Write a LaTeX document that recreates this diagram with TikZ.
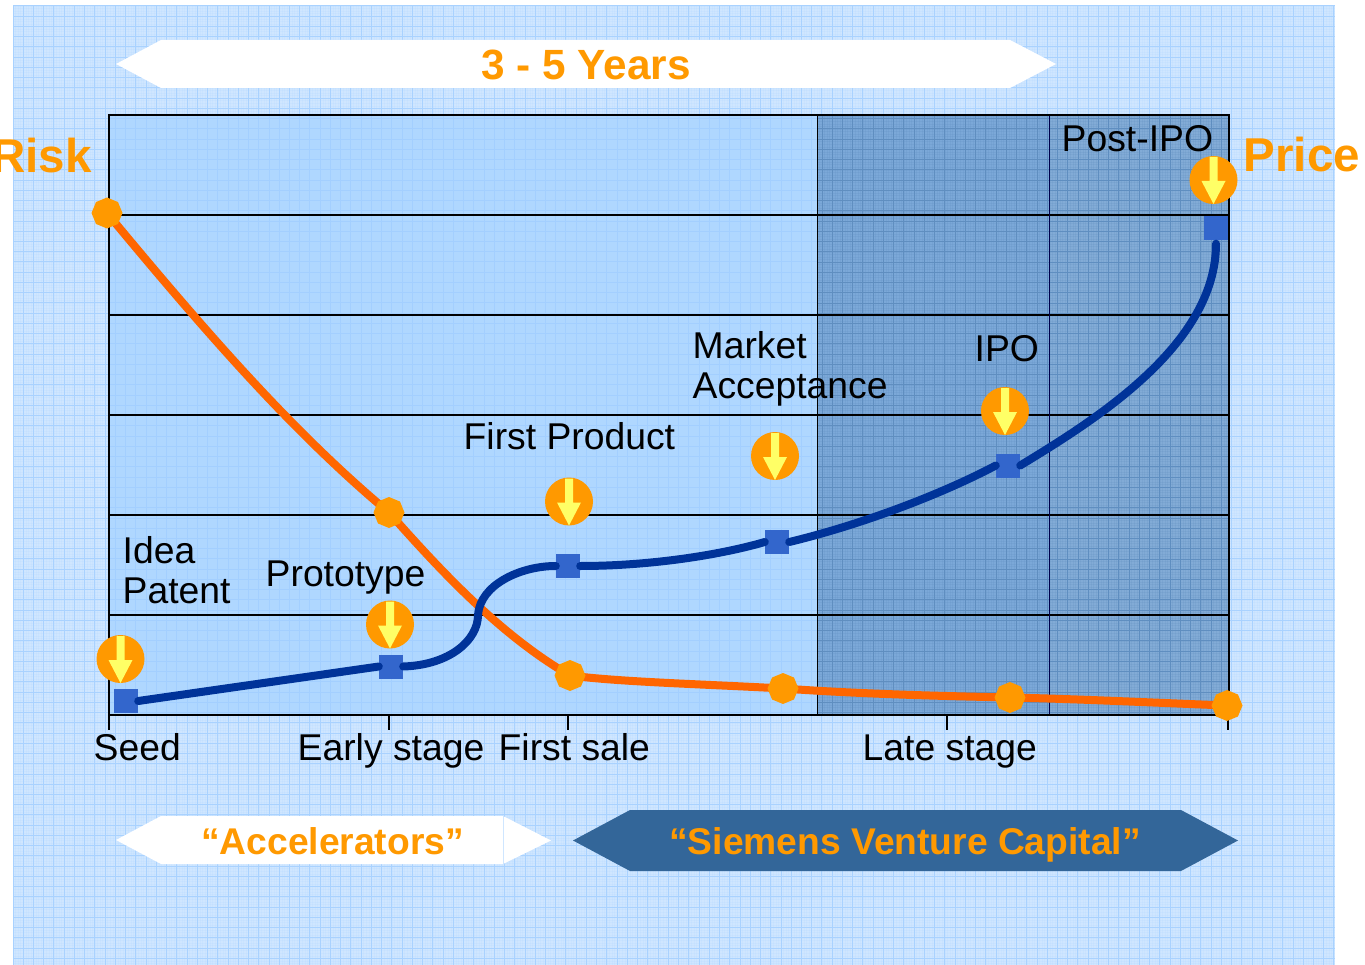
\documentclass[tikz,border=0pt]{standalone}
\usepackage{fontspec}
\setmainfont{Liberation Sans}
\usetikzlibrary{shapes.geometric}
\definecolor{bgc}{HTML}{CFE6FF}
\definecolor{gridc}{HTML}{A9D2FF}
\definecolor{panelc}{HTML}{AFD7FF}
\definecolor{panelgrid}{HTML}{A3CFFF}
\definecolor{darkc}{HTML}{7BA8D8}
\definecolor{darkd}{HTML}{82ABD6}
\definecolor{darkgrid}{HTML}{5F8EC0}
\definecolor{orangeT}{HTML}{FF9900}
\definecolor{orangeL}{HTML}{FF6600}
\definecolor{blueL}{HTML}{003399}
\definecolor{blueS}{HTML}{3366CC}
\definecolor{steel}{HTML}{336699}
\definecolor{yel}{HTML}{FFFF66}
\tikzset{
  x=1pt,y=-1pt,
  lbl/.style={anchor=base west,inner sep=0pt,font=\fontsize{37.3}{37.3}\selectfont,text=black},
  big/.style={anchor=base,inner sep=0pt,font=\fontsize{47.5}{47.5}\selectfont\bfseries,text=orangeT},
  banner/.style={anchor=base,inner sep=0pt,font=\fontsize{37.2}{38}\selectfont\bfseries,text=orangeT},
  octa/.style={regular polygon,regular polygon sides=8,shape border rotate=22.5,fill=orangeT,inner sep=0pt,minimum size=31pt},
  sq/.style={rectangle,fill=blueS,inner sep=0pt,minimum size=24pt},
  orline/.style={draw=orangeL,line width=8pt,line cap=round},
  blline/.style={draw=blueL,line width=8pt,line cap=round},
  hair/.style={draw=black,line width=1.6pt},
  coin/.style={circle,fill=orangeT,inner sep=0pt,minimum size=48pt},
}
\newcommand{\coinat}[3]{%
  \node[coin] (#1) at (#2,#3) {};
  \fill[yel] (#1.center) ++(-4,-23) -- ++(8,0) -- ++(0,24) -- ++(8,0) -- ++(-12,23) -- ++(-12,-23) -- ++(8,0) -- cycle;
}
\begin{document}
\begin{tikzpicture}
\useasboundingbox (0,0) rectangle (1365,965);
% background panel
\fill[bgc] (13,6) rectangle (1335,965);
\begin{scope}
\clip (13,6) rectangle (1335,965);
\foreach \i in {0,...,516} {\draw[gridc,line width=.5pt,opacity=.14] ({13+2.56*\i},6) -- ({13+2.56*\i},965);}
\foreach \i in {0,...,375} {\draw[gridc,line width=.5pt,opacity=.14] (13,{6+2.56*\i}) -- (1335,{6+2.56*\i});}
\foreach \i in {0,...,130} {\draw[gridc,line width=1pt] ({13+10.24*\i},6) -- ({13+10.24*\i},965);}
\foreach \i in {0,...,94} {\draw[gridc,line width=1pt] (13,{6+10.24*\i}) -- (1335,{6+10.24*\i});}
\end{scope}
% chart panel
\fill[panelc] (109,115) rectangle (817,715);
\fill[darkc] (817,115) rectangle (1049,715);
\fill[darkd] (1049,115) rectangle (1229,715);
\begin{scope}
\clip (109,115) rectangle (817,715);
\foreach \i in {9,...,79} {\draw[panelgrid,line width=1pt] ({13+10.24*\i},115) -- ({13+10.24*\i},715);}
\foreach \i in {11,...,69} {\draw[panelgrid,line width=1pt] (109,{6+10.24*\i}) -- (817,{6+10.24*\i});}
\end{scope}
\begin{scope}
\clip (817,115) rectangle (1229,715);
\foreach \i in {78,...,119} {\draw[darkgrid,line width=.9pt] ({13+10.24*\i},115) -- ({13+10.24*\i},715);}
\foreach \i in {11,...,69} {\draw[darkgrid,line width=.9pt] (817,{6+10.24*\i}) -- (1229,{6+10.24*\i});}
\foreach \i in {314,...,475} {\draw[darkgrid,line width=.5pt,opacity=.2] ({13+2.56*\i},115) -- ({13+2.56*\i},715);}
\foreach \i in {42,...,277} {\draw[darkgrid,line width=.5pt,opacity=.2] (817,{6+2.56*\i}) -- (1229,{6+2.56*\i});}
\end{scope}
\foreach \y in {215,315,415,515,615} {\draw[hair] (109,\y) -- (1229,\y);}
\draw[black,line width=1pt] (817,115) -- (817,715);
\draw[black!70!blue,line width=1pt] (1049,115) -- (1049,715);
\draw[black,line width=1.2pt] (109,115) rectangle (1229,715);
\foreach \x in {109,389,568,947,1228} {\draw[black,line width=1.6pt] (\x,715) -- (\x,730);}
% banners
\fill[white] (116,64) -- (161,40) -- (1010,40) -- (1056,64) -- (1010,88) -- (161,88) -- cycle;
\node[banner,font=\fontsize{42.3}{42.3}\selectfont\bfseries] (years) at (586,80) {3 - 5 Years};
\fill[white] (116,840) -- (161,816) -- (503,816) -- (551,840.5) -- (503,864) -- (161,864) -- cycle;
\draw[bgc,line width=.6pt] (503,816) -- (503,864);
\node[banner] (acc) at (332.5,854) {“Accelerators”};
\fill[steel] (573,840.5) -- (630,810) -- (1181,810) -- (1238,840.5) -- (1181,871) -- (630,871) -- cycle;
\node[banner] (svc) at (905,854) {“Siemens Venture Capital”};
% side labels
\node[big,anchor=base east] (risk) at (92,173) {Risk};
\node[big,anchor=base west] (price) at (1243.5,172) {Price};
% labels
\node[lbl] (seed) at (93.5,760) {Seed};
\node[lbl] (early) at (297.5,760) {Early stage};
\node[lbl] (fsale) at (498.5,760) {First sale};
\node[lbl] (late) at (862.5,760) {Late stage};
\node[lbl] (idea) at (122.5,563) {Idea};
\node[lbl] (patent) at (122.5,603) {Patent};
\node[lbl] (proto) at (265.5,586) {Prototype};
\node[lbl] (fprod) at (463.5,449) {First Product};
\node[lbl] (market) at (692.5,359) {Market};
\node[lbl] (accept) at (692.5,399) {Acceptance};
\node[lbl] (ipo) at (974.5,362) {IPO};
\node[lbl] (post) at (1061.5,152) {Post-IPO};
% markers positions
\coordinate (o1) at (107,213);
\coordinate (o2) at (389,512.5);
\coordinate (o3) at (570,675.5);
\coordinate (o4) at (783,688.5);
\coordinate (o5) at (1010,697.5);
\coordinate (o6) at (1227,705.5);
% orange curve
\draw[orline] (o1) .. controls (200,325) and (290,430) .. (o2)
  .. controls (440,570) and (500,635) .. (o3)
  .. controls (620,682) and (700,684) .. (o4)
  .. controls (860,694) and (940,696) .. (o5)
  .. controls (1080,699) and (1160,703) .. (o6);
\foreach \n in {o1,o2,o3,o4,o5,o6} {\node[octa] at (\n) {};}
% squares
\node[sq] (s1) at (126,701) {};
\node[sq] (s2) at (391,666.5) {};
\node[sq] (s3) at (568,566) {};
\node[sq] (s4) at (777,542) {};
\node[sq] (s5) at (1008,465.5) {};
\node[sq] (s6) at (1216,228.5) {};
\coordinate (sm) at (478,615);
% blue curve
\draw[blline] (s1.east) -- (s2.west);
\draw[blline] (s2.east) .. controls (450,665) and (478,640) .. (sm)
  .. controls (480,585) and (520,566) .. (s3.west);
\draw[blline] (s3.east) .. controls (650,566) and (720,555) .. (s4.west);
\draw[blline] (s4.east) .. controls (860,525) and (940,495) .. (s5.west);
\draw[blline] (s5.east) .. controls (1095,420) and (1216,345) .. ([yshift=-3pt]s6.south);
% coins
\coinat{c1}{120.5}{659}
\coinat{c2}{390}{624.5}
\coinat{c3}{569}{501.5}
\coinat{c4}{775}{456}
\coinat{c5}{1005}{411}
\coinat{c6}{1213.5}{180}
\end{tikzpicture}
\end{document}
